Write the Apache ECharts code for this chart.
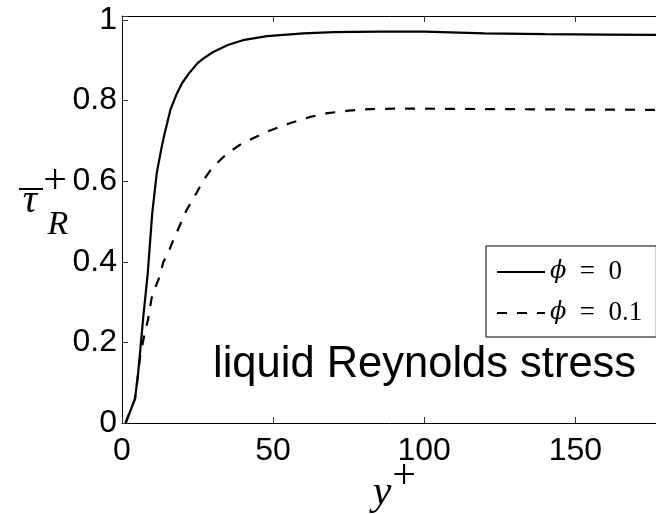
<!DOCTYPE html>
<html><head><meta charset="utf-8">
<script src="https://cdn.jsdelivr.net/npm/echarts@6/dist/echarts.min.js"></script>
<style>html,body{margin:0;padding:0;background:#fff}#c{width:656px;height:514px}</style>
</head><body><div id="c"></div>
<script>
const seriesNames = ['ϕ = 0', 'ϕ = 0.1'];
const xSolid = [1.2, 4.3, 5.3, 7, 8.5, 10, 11.5, 13, 14, 16, 18, 20, 22, 25, 27, 30, 35, 40, 48, 60, 70, 85, 100, 120, 140, 160, 180];
const ySolid = [0, 0.06, 0.12, 0.26, 0.37, 0.52, 0.62, 0.68, 0.715, 0.777, 0.815, 0.845, 0.866, 0.893, 0.905, 0.92, 0.938, 0.95, 0.96, 0.967, 0.97, 0.971, 0.971, 0.967, 0.965, 0.964, 0.963];
const xDashed = [1.2, 4.3, 5.3, 6, 7.5, 8.6, 9.8, 11.2, 12.5, 13.7, 15.2, 17, 18, 21.4, 24, 27, 30, 35, 40, 48, 56, 62, 68, 75, 82, 90, 100, 120, 150, 180];
const yDashed = [0, 0.06, 0.12, 0.165, 0.223, 0.256, 0.31, 0.34, 0.364, 0.4, 0.42, 0.455, 0.471, 0.529, 0.562, 0.603, 0.635, 0.67, 0.695, 0.723, 0.745, 0.759, 0.769, 0.775, 0.779, 0.78, 0.78, 0.779, 0.778, 0.777];
const xTicks = [0, 50, 100, 150];
const yTicks = [0, 0.2, 0.4, 0.6, 0.8, 1];
const annotation = 'liquid Reynolds stress';

function zip(a, b) { return a.map((v, i) => [v, b[i]]); }
function inList(list, v) { return list.some(t => Math.abs(t - v) < 1e-6); }

const chart = echarts.init(document.getElementById('c'), null, {renderer: 'canvas'});
const sans = 'Liberation Sans';
const serif = 'Liberation Serif';
const axisCommon = {
  type: 'value', min: 0, max: 180, interval: 50,
  axisLine: {show: true, lineStyle: {color: '#000', width: 1}},
  axisTick: {show: true, inside: true, length: 6, lineStyle: {color: '#333', width: 1}},
  splitLine: {show: false}
};
chart.setOption({
  animation: false,
  backgroundColor: '#fff',
  grid: {left: 122, top: 16, width: 544, height: 407, outerBoundsMode: 'none', containLabel: false},
  xAxis: [
    Object.assign({}, axisCommon, {position: 'bottom',
      axisLabel: {show: true, margin: 12, color: '#000', fontFamily: sans, fontSize: 32,
        formatter: v => inList(xTicks, v) ? String(v) : ''}}),
    Object.assign({}, axisCommon, {position: 'top', axisLabel: {show: false}})
  ],
  yAxis: [{
    type: 'value', min: 0, max: 1.01, interval: 0.2, position: 'left',
    axisLine: {show: true, lineStyle: {color: '#000', width: 1}},
    axisTick: {show: true, inside: true, length: 6, lineStyle: {color: '#333', width: 1}},
    splitLine: {show: false},
    axisLabel: {show: true, margin: 5, color: '#000', fontFamily: sans, fontSize: 32,
      formatter: v => inList(yTicks, v) ? String(Math.round(v * 10) / 10) : ''}
  }],
  legend: {
    orient: 'vertical', left: 486, top: 246,
    padding: [11, 14, 9, 10], itemGap: 11, itemWidth: 48, itemHeight: 14,
    borderColor: '#000', borderWidth: 1, backgroundColor: '#fff',
    data: seriesNames,
    itemStyle: {color: 'rgba(0,0,0,0)', borderColor: 'rgba(0,0,0,0)', borderWidth: 0, opacity: 0},
    formatter: name => '{i|ϕ}\u2002=\u2002' + name.split('= ')[1],
    textStyle: {fontFamily: serif, fontSize: 27, color: '#000', lineHeight: 30,
      rich: {i: {fontFamily: 'DejaVu Serif', fontStyle: 'italic', fontSize: 24, lineHeight: 30, color: '#000'}}}
  },
  series: [
    {name: seriesNames[0], type: 'line', data: zip(xSolid, ySolid), symbol: 'none', clip: true,
      lineStyle: {color: '#000', width: 2.2, type: 'solid'}, itemStyle: {color: '#000'}},
    {name: seriesNames[1], type: 'line', data: zip(xDashed, yDashed), symbol: 'none', clip: true,
      lineStyle: {color: '#000', width: 2.2, type: [10, 10]}, itemStyle: {color: '#000'}}
  ],
  graphic: [
    {type: 'text', x: 213, y: 365, style: {text: annotation, fontFamily: sans, fontSize: 43.5, fill: '#000', align: 'left', verticalAlign: 'middle'}},
    {type: 'text', x: 30, y: 201.5, style: {text: 'τ', fontFamily: serif, fontStyle: 'italic', fontSize: 40, fill: '#000', align: 'center', verticalAlign: 'middle'}},
    {type: 'line', shape: {x1: 19, y1: 189, x2: 43, y2: 189}, style: {stroke: '#000', lineWidth: 2}},
    {type: 'text', x: 55, y: 182, style: {text: '+', fontFamily: serif, fontSize: 42, fill: '#000', align: 'center', verticalAlign: 'middle'}},
    {type: 'text', x: 58, y: 225.5, style: {text: 'R', fontFamily: serif, fontStyle: 'italic', fontSize: 34, fill: '#000', align: 'center', verticalAlign: 'middle'}},
    {type: 'text', x: 382, y: 493, style: {text: 'y', fontFamily: serif, fontStyle: 'italic', fontSize: 42, fill: '#000', align: 'center', verticalAlign: 'middle'}},
    {type: 'text', x: 404, y: 477, style: {text: '+', fontFamily: serif, fontSize: 42, fill: '#000', align: 'center', verticalAlign: 'middle'}}
  ]
});
</script></body></html>
